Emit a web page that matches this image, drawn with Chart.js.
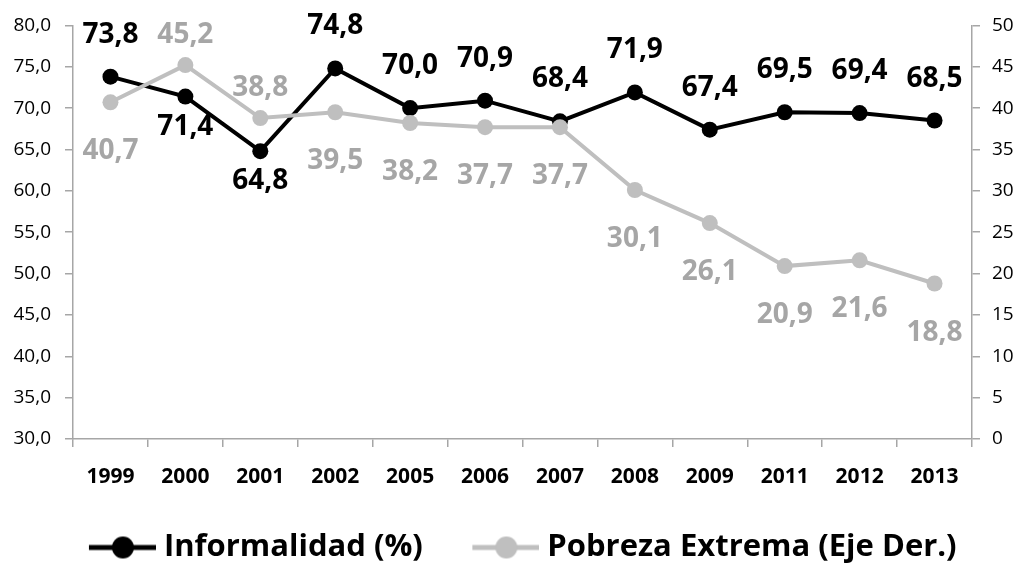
<!DOCTYPE html>
<html>
<head>
<meta charset="utf-8">
<script src="https://cdn.jsdelivr.net/npm/chart.js@4.4.1/dist/chart.umd.min.js"></script>
<style>
  html, body { margin: 0; padding: 0; background: #fff; }
  #wrap { width: 1016px; height: 564px; }
</style>
</head>
<body>
<div id="wrap"><canvas id="chart"></canvas></div>
<script>
// data
const years = ['1999', '2000', '2001', '2002', '2005', '2006', '2007', '2008', '2009', '2011', '2012', '2013'];
const informalidad = [73.8, 71.4, 64.8, 74.8, 70.0, 70.9, 68.4, 71.9, 67.4, 69.5, 69.4, 68.5];
const pobrezaExtrema = [40.7, 45.2, 38.8, 39.5, 38.2, 37.7, 37.7, 30.1, 26.1, 20.9, 21.6, 18.8];
const leftAxisRange = [30, 80];
const rightAxisRange = [0, 50];
const tickStep = 5;

const AXIS_GRAY = '#a6a6a6';
const LINE_GRAY = '#bfbfbf';
const LABEL_GRAY = '#a6a6a6';
const FONT = '"Open Sans"';

const fmt = (v) => v.toFixed(1).replace('.', ',');

/** legend icon: line with a dot, drawn into a small canvas */
const makeIcon = (color) => {
    const c = document.createElement('canvas');
    c.width = 104;
    c.height = 26;
    const g = c.getContext('2d');
    g.strokeStyle = color;
    g.lineWidth = 5;
    g.beginPath();
    g.moveTo(37, 13);
    g.lineTo(104, 13);
    g.stroke();
    g.fillStyle = color;
    g.beginPath();
    g.arc(71, 13, 11, 0, Math.PI * 2);
    g.fill();
    return c;
};
const legendIcons = [makeIcon('#000'), makeIcon(LINE_GRAY)];

/** value labels above / below each point */
const pointLabels = {
    id: 'pointLabels',
    afterDatasetsDraw(chart, args, opts) {
        const ctx = chart.ctx;
        chart.data.datasets.forEach((ds, i) => {
            const cfg = opts.series[i];
            const meta = chart.getDatasetMeta(i);
            ctx.save();
            ctx.font = `bold ${opts.size}px ${FONT}`;
            ctx.fillStyle = cfg.color;
            ctx.textAlign = 'center';
            ctx.textBaseline = 'alphabetic';
            meta.data.forEach((pt, j) => {
                const flip = cfg.flip.includes(j);
                const dy = flip ? cfg.alt : cfg.offset;
                ctx.fillText(fmt(ds.data[j]), pt.x, pt.y + dy + opts.size * 0.36);
            });
            ctx.restore();
        });
    },
};

const tickFont = { family: FONT, size: 19 };

new Chart(document.getElementById('chart'), {
    type: 'line',
    data: {
        labels: years,
        datasets: [
            {
                label: 'Informalidad (%)',
                data: informalidad,
                yAxisID: 'y',
                borderColor: '#000',
                backgroundColor: '#000',
                pointBackgroundColor: '#000',
                borderWidth: 4,
                pointRadius: 8,
                pointBorderWidth: 0,
                order: 1,
            },
            {
                label: 'Pobreza Extrema (Eje Der.)',
                data: pobrezaExtrema,
                yAxisID: 'y1',
                borderColor: LINE_GRAY,
                backgroundColor: LINE_GRAY,
                pointBackgroundColor: LINE_GRAY,
                borderWidth: 4,
                pointRadius: 8,
                pointBorderWidth: 0,
                order: 0,
            },
        ],
    },
    options: {
        responsive: true,
        maintainAspectRatio: false,
        animation: false,
        events: [],
        layout: { padding: { top: 24, left: 0, right: 0, bottom: -9 } },
        scales: {
            x: {
                offset: true,
                grid: { offset: true, drawOnChartArea: false, tickLength: 8, color: AXIS_GRAY, lineWidth: 1.5 },
                border: { color: AXIS_GRAY, width: 1.5 },
                ticks: {
                    color: '#000',
                    font: { family: FONT, size: 21, weight: 'bold' },
                    padding: 17,
                    maxRotation: 0,
                    autoSkip: false,
                },
                afterFit: (s) => { s.height = 73; },
            },
            y: {
                position: 'left',
                min: leftAxisRange[0],
                max: leftAxisRange[1],
                grid: { drawOnChartArea: false, tickLength: 8, color: AXIS_GRAY, lineWidth: 1.5 },
                border: { color: AXIS_GRAY, width: 1.5 },
                ticks: { stepSize: tickStep, color: '#000', font: tickFont, padding: 14, callback: (v) => fmt(v) },
                afterFit: (s) => { s.width = 73; },
            },
            y1: {
                position: 'right',
                min: rightAxisRange[0],
                max: rightAxisRange[1],
                grid: { drawOnChartArea: false, tickLength: 8, color: AXIS_GRAY, lineWidth: 1.5 },
                border: { color: AXIS_GRAY, width: 1.5 },
                ticks: { stepSize: tickStep, color: '#000', font: tickFont, padding: 12 },
                afterFit: (s) => { s.width = 44; },
            },
        },
        plugins: {
            tooltip: { enabled: false },
            legend: {
                position: 'bottom',
                align: 'center',
                labels: {
                    usePointStyle: true,
                    pointStyleWidth: 89,
                    padding: 20,
                    color: '#000',
                    font: { family: FONT, size: 31, weight: 'bold' },
                    sort: (a, b) => a.datasetIndex - b.datasetIndex,
                    generateLabels: (chart) =>
                        Chart.defaults.plugins.legend.labels.generateLabels(chart).map((item) => ({
                            ...item,
                            pointStyle: legendIcons[item.datasetIndex],
                        })),
                },
            },
            pointLabels: {
                size: 28,
                series: [
                    { color: '#000', offset: -44, alt: 28, flip: [1, 2] },
                    { color: LABEL_GRAY, offset: 47, alt: -32, flip: [1, 2] },
                ],
            },
        },
    },
    plugins: [pointLabels],
});
</script>
</body>
</html>
